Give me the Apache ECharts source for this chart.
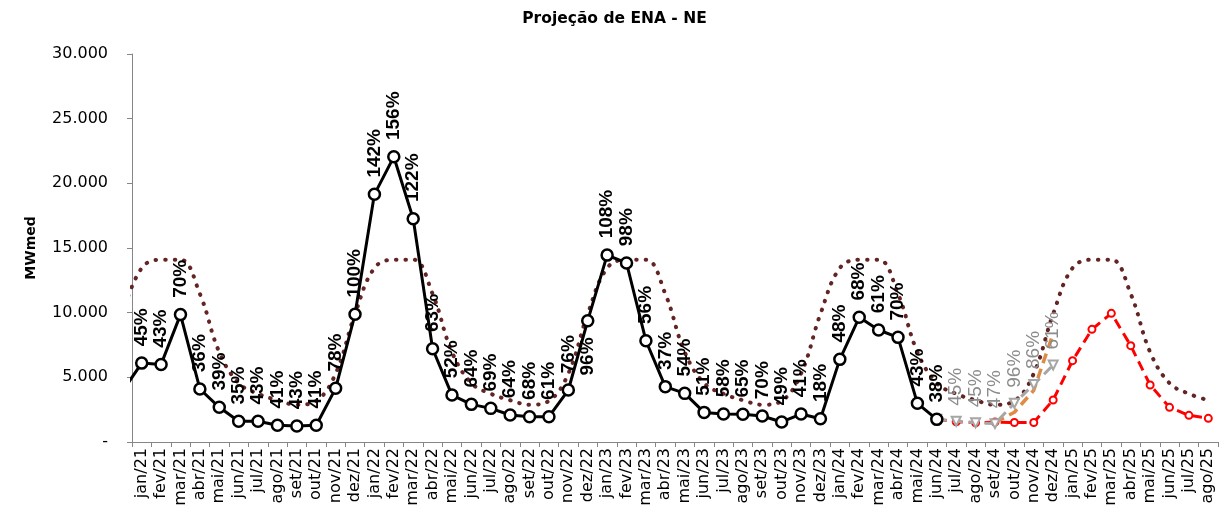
<!DOCTYPE html>
<html><head><meta charset="utf-8">
<script src="https://cdn.jsdelivr.net/npm/echarts@6/dist/echarts.min.js"></script>
<style>html,body{margin:0;padding:0;background:#fff}#c{width:1229px;height:509px}</style>
</head><body><div id="c"></div>
<script>
// Categories (dez/20 is only used so the curves enter from the left edge; axis starts at jan/21)
const categories = ['dez/20',
 'jan/21','fev/21','mar/21','abr/21','mai/21','jun/21','jul/21','ago/21','set/21','out/21','nov/21','dez/21',
 'jan/22','fev/22','mar/22','abr/22','mai/22','jun/22','jul/22','ago/22','set/22','out/22','nov/22','dez/22',
 'jan/23','fev/23','mar/23','abr/23','mai/23','jun/23','jul/23','ago/23','set/23','out/23','nov/23','dez/23',
 'jan/24','fev/24','mar/24','abr/24','mai/24','jun/24','jul/24','ago/24','set/24','out/24','nov/24','dez/24',
 'jan/25','fev/25','mar/25','abr/25','mai/25','jun/25','jul/25','ago/25'];

// MLT (dotted)
const mlt = [9900,
 13450,14100,14100,11450,6950,4550,3730,3230,2880,3180,5290,9900,
 13450,14100,14100,11450,6950,4550,3730,3230,2880,3180,5290,9900,
 13450,14100,14100,11450,6950,4550,3730,3230,2880,3180,5290,9900,
 13450,14100,14100,11450,6950,4550,3730,3230,2880,3180,5290,9900,
 13450,14100,14100,11450,6950,4550,3730,3230];

// Verified ENA (black)
const verified = [3900,
 6100,6000,9850,4100,2680,1600,1600,1290,1240,1290,4150,9870,
 19150,22050,17260,7210,3630,2910,2600,2090,1960,1960,4020,9380,
 14450,13840,7830,4280,3760,2290,2160,2140,2010,1550,2160,1800,
 6390,9640,8660,8090,2990,1750,
 null,null,null,null,null,null,null,null,null,null,null,null,null,null];
const verifiedLabels = ['',
 '45%','43%','70%','36%','39%','35%','43%','41%','43%','41%','78%','100%',
 '142%','156%','122%','63%','52%','64%','69%','64%','68%','61%','76%','96%',
 '108%','98%','56%','37%','54%','51%','58%','65%','70%','49%','41%','18%',
 '48%','68%','61%','70%','43%','38%'];
const labelsBelow = ['dez/22'];

// Forecast (red dashed)
const forecastRed = [null,
 null,null,null,null,null,null,null,null,null,null,null,null,
 null,null,null,null,null,null,null,null,null,null,null,null,
 null,null,null,null,null,null,null,null,null,null,null,null,
 null,null,null,null,null,1750,1570,1490,1540,1510,1510,3250,
 6290,8710,9950,7450,4410,2680,2060,1830];

// Forecast (gray dashed, triangles)
const forecastGray = [null,
 null,null,null,null,null,null,null,null,null,null,null,null,
 null,null,null,null,null,null,null,null,null,null,null,null,
 null,null,null,null,null,null,null,null,null,null,null,null,
 null,null,null,null,null,1750,1600,1480,1420,3000,4450,5950,
 null,null,null,null,null,null,null,null];
const grayLabels = {'jul/24':'45%','ago/24':'45%','set/24':'47%','out/24':'96%','nov/24':'86%','dez/24':'61%'};

// Forecast (orange dashed)
const forecastOrange = [null,
 null,null,null,null,null,null,null,null,null,null,null,null,
 null,null,null,null,null,null,null,null,null,null,null,null,
 null,null,null,null,null,null,null,null,null,null,null,null,
 null,null,null,null,null,null,null,null,1500,2300,4000,8400,
 null,null,null,null,null,null,null,null];

const yMax = 30000, yStep = 5000;

const chart = echarts.init(document.getElementById('c'));

const verifiedData = verified.map((v, i) => {
  if (labelsBelow.indexOf(categories[i]) >= 0) {
    return {value: v, label: {position: 'bottom', align: 'right'}};
  }
  return v;
});

const option = {
  animation: false,
  backgroundColor: '#fff',
  title: {
    text: 'Projeção de ENA - NE', left: 'center', top: 6,
    textStyle: {fontFamily: 'DejaVu Sans', fontWeight: 'bold', fontSize: 15.5, color: '#000'}
  },
  grid: {left: 132, right: 11, top: 54, bottom: 67, containLabel: false},
  xAxis: {
    type: 'category', data: categories, min: 1, boundaryGap: true,
    axisLine: {show: true, lineStyle: {color: '#868686', width: 1}},
    axisTick: {show: true, length: 5, lineStyle: {color: '#868686'}},
    axisLabel: {interval: 0, rotate: 90, margin: 6, fontFamily: 'DejaVu Sans', fontSize: 16, color: '#000'},
    splitLine: {show: false}
  },
  yAxis: {
    type: 'value', min: 0, max: yMax, interval: yStep,
    name: 'MWmed', nameLocation: 'middle', nameGap: 94, nameRotate: 90,
    nameTextStyle: {fontFamily: 'DejaVu Sans', fontWeight: 'bold', fontSize: 14, color: '#000'},
    axisLine: {show: true, lineStyle: {color: '#868686', width: 1}},
    axisTick: {show: true, length: 5, lineStyle: {color: '#868686'}},
    axisLabel: {
      margin: 24, fontFamily: 'DejaVu Sans', fontSize: 16, color: '#000',
      formatter: v => v === 0 ? '-' : v.toString().replace(/\B(?=(\d{3})+(?!\d))/g, '.')
    },
    splitLine: {show: false}
  },
  series: [
    {
      name: 'MLT', type: 'line', data: mlt, smooth: 0.4, showSymbol: false, z: 1,
      lineStyle: {color: '#632523', width: 4, type: [0.5, 9], cap: 'round'}
    },
    {
      name: 'Previsão', type: 'line', data: forecastRed, z: 2,
      symbol: 'circle', symbolSize: 7,
      itemStyle: {color: '#fff', borderColor: '#FF0000', borderWidth: 2},
      lineStyle: {color: '#FF0000', width: 3, type: [10, 6]}
    },
    {
      name: 'Laranja', type: 'line', data: forecastOrange, z: 3, showSymbol: false,
      lineStyle: {color: '#DE8B45', width: 3.5, type: [10, 6]}
    },
    {
      name: 'Cinza', type: 'line', data: forecastGray, z: 4,
      symbol: 'triangle', symbolRotate: 180, symbolSize: 9,
      itemStyle: {color: '#fff', borderColor: '#A6A6A6', borderWidth: 2},
      lineStyle: {color: '#A6A6A6', width: 3, type: [10, 6]},
      label: {
        show: true, position: 'top', distance: 10, rotate: 90, align: 'left', verticalAlign: 'middle',
        fontFamily: 'Liberation Sans', fontSize: 19, color: '#8C8C8C',
        formatter: p => grayLabels[categories[p.dataIndex]] || ''
      }
    },
    {
      name: 'Verificado', type: 'line', data: verifiedData, z: 5,
      symbol: 'circle', symbolSize: 11,
      itemStyle: {color: '#fff', borderColor: '#000', borderWidth: 2.5},
      lineStyle: {color: '#000', width: 3},
      label: {
        show: true, position: 'top', distance: 10, rotate: 90, align: 'left', verticalAlign: 'middle',
        fontFamily: 'Liberation Sans', fontWeight: 'bold', fontSize: 19, color: '#000',
        formatter: p => verifiedLabels[p.dataIndex] || ''
      }
    }
  ]
};
chart.setOption(option);
</script>
</body></html>
